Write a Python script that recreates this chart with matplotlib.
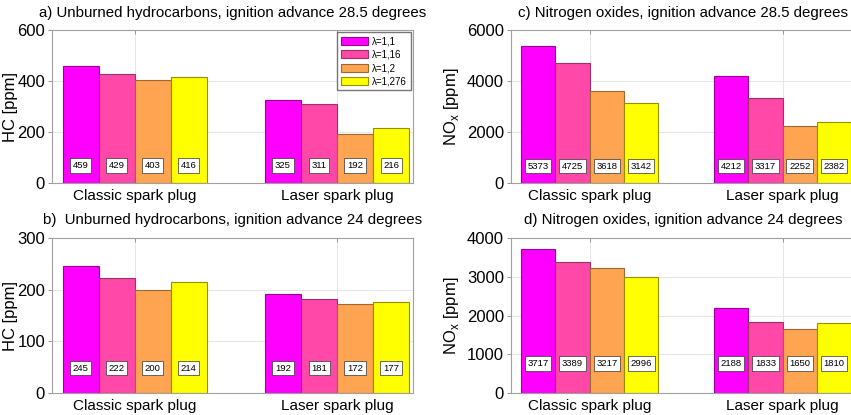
import matplotlib
matplotlib.use("Agg")
import matplotlib.pyplot as plt
import numpy as np

plt.rcParams['font.family'] = ['Liberation Sans', 'DejaVu Sans']

groups = ["Classic spark plug", "Laser spark plug"]
series = ["λ=1,1", "λ=1,16", "λ=1,2", "λ=1,276"]
colors = ["#FF00FF", "#FF48A8", "#FFA552", "#FFFF00"]
edges = ["#9A009A", "#A03068", "#A06830", "#909000"]

hc_28 = [[459, 325], [429, 311], [403, 192], [416, 216]]
hc_24 = [[245, 192], [222, 181], [200, 172], [214, 177]]
nox_28 = [[5373, 4212], [4725, 3317], [3618, 2252], [3142, 2382]]
nox_24 = [[3717, 2188], [3389, 1833], [3217, 1650], [2996, 1810]]

titles = ["a) Unburned hydrocarbons, ignition advance 28.5 degrees",
          "b)  Unburned hydrocarbons, ignition advance 24 degrees",
          "c) Nitrogen oxides, ignition advance 28.5 degrees",
          "d) Nitrogen oxides, ignition advance 24 degrees"]
ylabels = ["HC [ppm]", "HC [ppm]", "NO$_{\\mathregular{x}}$ [ppm]", "NO$_{\\mathregular{x}}$ [ppm]"]
yticks = [[0, 200, 400, 600], [0, 100, 200, 300],
          [0, 2000, 4000, 6000], [0, 1000, 2000, 3000, 4000]]
datas = [hc_28, hc_24, nox_28, nox_24]
label_frac = [0.115, 0.16, 0.11, 0.19]

W, H = 851, 415
fig = plt.figure(figsize=(W / 100, H / 100), dpi=100)
boxes = [(52, 30, 413, 183), (52, 238, 413, 393), (511, 30, 855, 183), (511, 238, 855, 393)]
ylab_px = [18, 18, 461, 461]
title_pad = [9, 10, 9, 10]

x = np.arange(1, len(groups) + 1)
bw = 0.178
gridc = "#E6E6E6"
for i, (l, t, r, b) in enumerate(boxes):
    ax = fig.add_axes([l / W, 1 - b / H, (r - l) / W, (b - t) / H])
    data = datas[i]
    ymax = yticks[i][-1]
    ax.set_axisbelow(True)
    for k in range(len(series)):
        xs = x + (k - 1.5) * bw
        ax.bar(xs, data[k], width=bw, color=colors[k], edgecolor=edges[k],
               linewidth=0.8, label=series[k], zorder=2)
        for xx, v in zip(xs, data[k]):
            ax.text(xx, label_frac[i] * ymax, str(v), ha='center', va='center',
                    fontsize=6.8, zorder=3,
                    bbox=dict(boxstyle='square,pad=0.28', fc='white', ec='#333333', lw=0.5))
    ax.set_xlim(0.592, 2.375)
    ax.set_ylim(0, ymax)
    ax.set_yticks(yticks[i])
    ax.set_xticks(x)
    ax.set_xticklabels(groups)
    ax.tick_params(axis='y', labelsize=12, colors='#888888', labelcolor='black',
                   length=3, width=0.6, pad=2)
    ax.tick_params(axis='x', labelsize=11, colors='#888888', labelcolor='black',
                   length=3, width=0.6, direction='in', top=True, pad=4)
    ax.grid(True, color=gridc, linewidth=0.7)
    for s in ax.spines.values():
        s.set_color('#A0A0A0')
        s.set_linewidth(0.8)
    ax.set_title(titles[i], fontsize=10.8, pad=title_pad[i])
    ax.set_ylabel(ylabels[i], fontsize=12)
    ax.yaxis.set_label_coords((ylab_px[i] - l) / (r - l), 0.5)
    if i == 0:
        ax.legend(loc='upper right', fontsize=7, handlelength=2.8, handleheight=0.9,
                  frameon=True, fancybox=False, edgecolor='#555555',
                  borderpad=0.4, labelspacing=0.35, handletextpad=0.4,
                  borderaxespad=0.25)

fig.savefig("out.png", dpi=100)
